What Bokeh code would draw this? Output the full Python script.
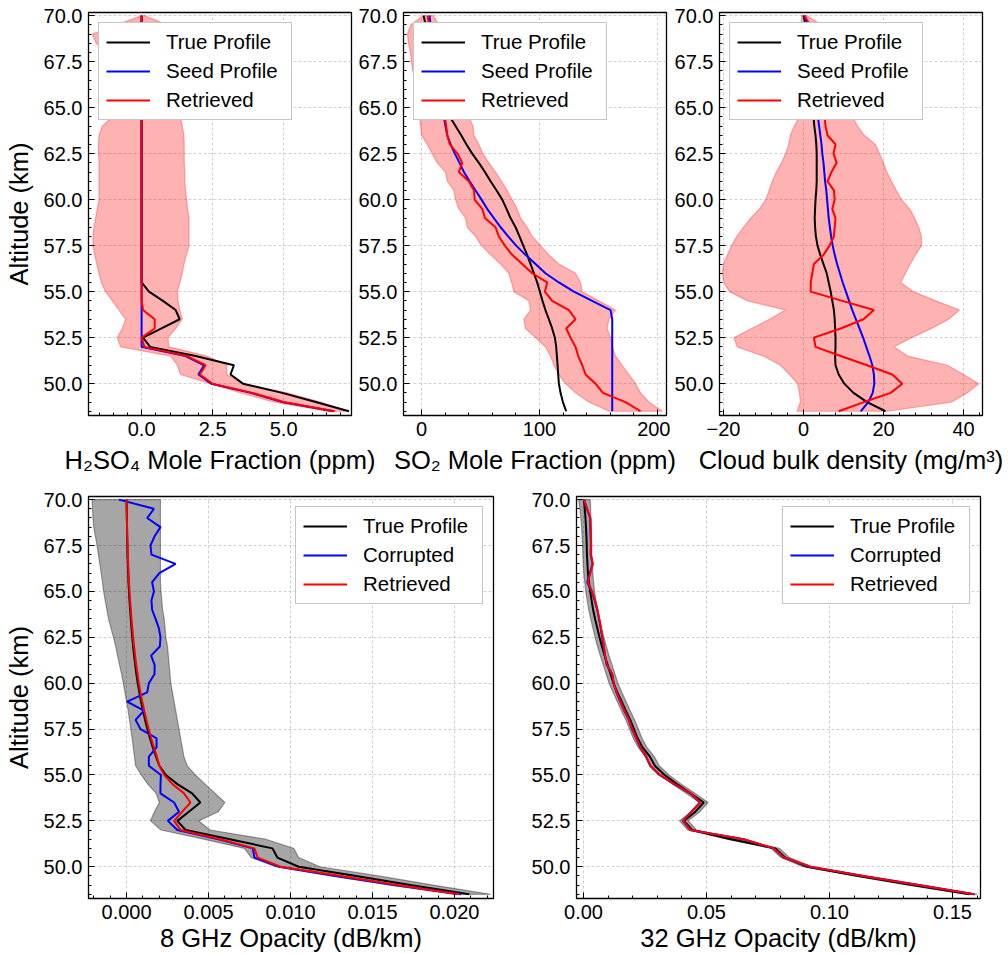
from bokeh.plotting import figure
from bokeh.layouts import column, row
from bokeh.models import (Range1d, SingleIntervalTicker, NumeralTickFormatter,
                          CustomJSTickFormatter, Legend, LegendItem)
from bokeh.core.properties import value
from bokeh.embed import file_html
from bokeh.resources import INLINE

# ---------------- data (altitude levels, km) ----------------
altitude = [70.0, 69.5, 69.0, 68.5, 68.0, 67.5, 67.0, 66.5, 66.0, 65.5,
            65.0, 64.5, 64.0, 63.5, 63.0, 62.5, 62.0, 61.5, 61.0, 60.5,
            60.0, 59.5, 59.0, 58.5, 58.0, 57.5, 57.0, 56.5, 56.0, 55.5,
            55.0, 54.5, 54.0, 53.5, 53.0, 52.5, 52.0, 51.5, 51.0, 50.5,
            50.0, 49.5, 49.0, 48.5]

# H2SO4 mole fraction (ppm)
h2so4_true = [0.00, 0.00, 0.00, 0.00, 0.00, 0.00, 0.00, 0.00, 0.00, 0.00,
              0.00, 0.00, 0.00, 0.00, 0.00, 0.00, 0.00, 0.00, 0.00, 0.00,
              0.00, 0.00, 0.00, 0.00, 0.00, 0.00, 0.00, 0.00, 0.00, 0.00,
              0.26, 0.75, 1.20, 1.34, 0.70, 0.05, 0.30, 1.90, 3.25, 3.13,
              3.57, 4.95, 6.13, 7.30]
h2so4_seed = [0.00, 0.00, 0.00, 0.00, 0.00, 0.00, 0.00, 0.00, 0.00, 0.00,
              0.00, 0.00, 0.00, 0.00, 0.00, 0.00, 0.00, 0.00, 0.00, 0.00,
              0.00, 0.00, 0.00, 0.00, 0.00, 0.00, 0.00, 0.00, 0.00, 0.00,
              0.00, 0.00, 0.00, 0.00, 0.00, 0.00, 0.00, 1.55, 2.20, 2.00,
              2.45, 3.85, 4.95, 6.75]
h2so4_retr = [0.00, 0.00, 0.00, 0.00, 0.00, 0.00, 0.00, 0.00, 0.00, 0.00,
              0.00, 0.00, 0.00, 0.00, 0.00, 0.00, 0.00, 0.00, 0.00, 0.00,
              0.00, 0.00, 0.00, 0.00, 0.00, 0.00, 0.00, 0.00, 0.00, 0.00,
              0.00, 0.00, 0.05, 0.46, 0.46, 0.00, 0.10, 1.60, 2.25, 2.05,
              2.49, 3.90, 5.00, 6.80]
h2so4_low = [0.00, -0.87, -1.74, -1.60, -1.20, -0.90, -0.80, -0.80, -0.85, -0.90,
             -0.95, -1.03, -1.38, -1.50, -1.52, -1.52, -1.50, -1.50, -1.50, -1.50,
             -1.50, -1.56, -1.62, -1.68, -1.71, -1.71, -1.65, -1.58, -1.50, -1.42,
             -1.27, -1.03, -0.80, -0.56, -0.68, -0.86, -0.74, 1.02, 1.26, 1.37,
             2.43, 3.49, 4.66, 6.54]
h2so4_high = [0.10, 0.90, 1.10, 1.20, 1.25, 1.30, 1.30, 1.30, 1.30, 1.30,
              1.32, 1.37, 1.43, 1.49, 1.50, 1.50, 1.50, 1.52, 1.52, 1.55,
              1.58, 1.62, 1.67, 1.67, 1.67, 1.67, 1.58, 1.49, 1.43, 1.35,
              1.26, 1.28, 1.35, 1.43, 1.20, 0.93, 0.96, 2.31, 3.00, 3.00,
              3.60, 5.13, 6.30, 7.24]

# SO2 mole fraction (ppm)
so2_true = [1.7, 3.5, 5.0, 6.5, 8.0, 9.6, 11.2, 13.0, 15.0, 17.5,
            20.3, 24.0, 28.8, 33.6, 38.1, 42.9, 48.6, 53.7, 58.5, 63.6,
            68.4, 72.0, 75.4, 79.7, 83.0, 86.2, 89.5, 92.4, 95.2, 98.0,
            100.3, 102.5, 105.0, 107.9, 110.7, 113.0, 114.1, 114.7, 115.3, 115.8,
            116.4, 117.8, 119.8, 122.6]
so2_seed = [6.8, 7.6, 8.5, 9.6, 10.8, 12.0, 13.2, 14.4, 15.6, 16.8,
            17.8, 18.9, 20.3, 21.8, 24.6, 28.2, 32.2, 35.9, 40.7, 45.8,
            50.8, 55.6, 61.3, 67.0, 73.4, 80.2, 88.1, 96.6, 105.0, 116.4,
            129.1, 144.6, 160.2, 161.6, 161.6, 161.6, 161.6, 161.6, 161.6, 161.6,
            161.6, 161.6, 161.6, 161.6]
so2_retr = [5.0, 6.5, 8.0, 9.3, 10.6, 11.9, 13.2, 14.5, 15.8, 17.0,
            18.3, 19.8, 20.9, 21.8, 24.0, 30.5, 34.5, 31.6, 40.0, 44.4,
            45.0, 51.4, 53.7, 62.7, 65.5, 70.6, 76.8, 85.3, 93.8, 106.5,
            104.5, 110.7, 124.9, 130.5, 122.6, 126.3, 130.5, 132.8, 136.2, 139.0,
            147.5, 153.7, 172.9, 185.6]
so2_low = [1.0, -9.0, -12.0, -11.0, -9.5, -8.5, -7.5, -5.0, -3.5, -3.0,
           -2.5, -1.7, -0.8, 0.0, 4.8, 9.0, 13.3, 20.3, 21.8, 27.4,
           28.8, 31.6, 37.3, 38.7, 45.8, 50.8, 58.5, 67.0, 74.0, 76.3,
           78.2, 91.0, 92.4, 86.7, 88.1, 96.6, 105.0, 109.3, 112.1, 116.4,
           122.0, 130.5, 141.8, 158.8]
so2_high = [10.0, 14.7, 17.0, 19.0, 21.0, 23.0, 25.0, 27.0, 30.0, 33.0,
            36.0, 40.0, 43.5, 44.4, 48.6, 52.0, 57.0, 62.7, 67.8, 72.6,
            76.8, 81.0, 83.9, 89.5, 93.8, 100.8, 107.9, 116.4, 130.5, 134.7,
            136.2, 150.3, 164.4, 158.8, 157.3, 160.2, 161.6, 164.4, 170.0, 175.7,
            181.4, 185.6, 192.7, 204.0]

# Cloud bulk density (mg/m^3)
cloud_true = [0.0, 0.5, 0.9, 1.2, 1.4, 1.6, 1.8, 1.9, 2.0, 2.1,
              2.3, 2.5, 2.7, 3.0, 3.2, 3.3, 3.3, 3.3, 3.3, 3.2,
              3.0, 2.9, 2.8, 2.9, 3.1, 3.5, 4.2, 5.0, 5.8, 6.3,
              6.8, 7.2, 7.6, 7.8, 7.9, 8.0, 8.0, 7.9, 8.0, 8.8,
              10.2, 12.5, 15.9, 20.5]
cloud_seed = [0.25, 0.8, 1.3, 1.7, 2.0, 2.3, 2.6, 2.8, 3.0, 3.2,
              3.4, 3.6, 3.9, 4.2, 4.5, 4.7, 5.0, 5.2, 5.4, 5.7,
              5.9, 6.1, 6.3, 6.6, 6.9, 7.3, 7.8, 8.4, 9.1, 9.8,
              10.6, 11.4, 12.2, 13.1, 14.0, 14.9, 15.7, 16.5, 17.2, 17.6,
              17.7, 17.3, 16.2, 14.3]
cloud_retr = [0.3, 1.5, 2.5, 3.0, 3.5, 4.0, 4.3, 4.6, 4.9, 5.0,
              5.2, 5.3, 5.5, 6.0, 8.0, 7.5, 8.3, 7.0, 6.0, 7.6,
              7.8, 7.2, 8.0, 7.8, 7.6, 6.5, 5.0, 2.6, 2.2, 1.8,
              1.8, 9.7, 17.6, 15.0, 9.3, 2.6, 3.0, 9.3, 15.9, 22.2,
              24.7, 21.8, 15.1, 8.8]
cloud_low = [-0.5, -0.5, -0.8, -0.9, -1.0, -1.0, -1.0, -1.0, -1.0, -0.9,
             -0.9, -1.0, -2.3, -3.3, -3.7, -4.5, -5.5, -6.8, -7.8, -8.6,
             -9.4, -11.0, -13.2, -15.0, -16.7, -18.0, -19.0, -20.0, -20.3, -19.9,
             -18.5, -14.0, -4.5, -8.5, -13.0, -17.4, -16.6, -10.0, -5.8, -3.5,
             -1.5, -1.0, -0.8, -1.6]
cloud_high = [0.8, 4.5, 6.0, 7.0, 8.0, 8.8, 9.5, 10.0, 10.5, 11.0,
              11.5, 12.2, 13.5, 15.2, 18.0, 19.0, 20.0, 20.8, 22.0, 23.2,
              24.5, 26.5, 27.8, 28.8, 29.5, 29.5, 28.0, 26.7, 25.5, 24.3,
              27.5, 33.0, 39.0, 36.3, 32.0, 27.0, 22.6, 26.0, 36.0, 40.0,
              43.8, 41.0, 37.0, 21.0]

# 8 GHz opacity (dB/km)
op8_true = [0.00000, 0.00001, 0.00002, 0.00003, 0.00004, 0.00005, 0.00006, 0.00008, 0.00010, 0.00012,
            0.00015, 0.00018, 0.00022, 0.00026, 0.00030, 0.00035, 0.00040, 0.00046, 0.00053, 0.00060,
            0.00068, 0.00078, 0.00088, 0.00100, 0.00113, 0.00127, 0.00143, 0.00160, 0.00180, 0.00200,
            0.00240, 0.00310, 0.00400, 0.00450, 0.00380, 0.00310, 0.00360, 0.00630, 0.00890, 0.00920,
            0.01050, 0.01400, 0.01730, 0.02090]
op8_corr = [-0.00047, 0.00167, 0.00126, 0.00207, 0.00171, 0.00146, 0.00152, 0.00299, 0.00200, 0.00156,
            0.00167, 0.00152, 0.00156, 0.00177, 0.00197, 0.00207, 0.00203, 0.00150, 0.00171, 0.00171,
            0.00136, 0.00126, 0.00004, 0.00106, 0.00055, 0.00085, 0.00183, 0.00183, 0.00136, 0.00136,
            0.00210, 0.00207, 0.00207, 0.00290, 0.00320, 0.00252, 0.00310, 0.00560, 0.00770, 0.00780,
            0.00930, 0.01280, 0.01630, 0.02040]
op8_retr = [0.00000, 0.00001, 0.00002, 0.00003, 0.00004, 0.00006, 0.00008, 0.00010, 0.00012, 0.00015,
            0.00018, 0.00022, 0.00026, 0.00030, 0.00035, 0.00040, 0.00046, 0.00052, 0.00059, 0.00067,
            0.00075, 0.00085, 0.00096, 0.00108, 0.00121, 0.00135, 0.00150, 0.00167, 0.00185, 0.00200,
            0.00230, 0.00280, 0.00350, 0.00390, 0.00340, 0.00290, 0.00330, 0.00570, 0.00780, 0.00800,
            0.00940, 0.01310, 0.01650, 0.02030]
op8_low = [-0.00210, -0.00208, -0.00205, -0.00200, -0.00190, -0.00180, -0.00172, -0.00163, -0.00155, -0.00147,
           -0.00140, -0.00130, -0.00120, -0.00110, -0.00095, -0.00080, -0.00066, -0.00055, -0.00043, -0.00030,
           -0.00020, -0.00010, 0.00000, 0.00010, 0.00018, 0.00026, 0.00034, 0.00041, 0.00048, 0.00055,
           0.00090, 0.00130, 0.00180, 0.00200, 0.00170, 0.00146, 0.00210, 0.00470, 0.00720, 0.00760,
           0.00910, 0.01240, 0.01610, 0.01990]
op8_high = [0.00207, 0.00207, 0.00207, 0.00207, 0.00207, 0.00207, 0.00207, 0.00207, 0.00207, 0.00207,
            0.00210, 0.00215, 0.00220, 0.00230, 0.00235, 0.00240, 0.00250, 0.00255, 0.00260, 0.00265,
            0.00270, 0.00280, 0.00290, 0.00300, 0.00310, 0.00320, 0.00330, 0.00340, 0.00350, 0.00370,
            0.00420, 0.00480, 0.00540, 0.00600, 0.00560, 0.00440, 0.00510, 0.00850, 0.01020, 0.01050,
            0.01180, 0.01540, 0.01870, 0.02220]

# 32 GHz opacity (dB/km)
op32_true = [0.0002, 0.0005, 0.0008, 0.0010, 0.0012, 0.0013, 0.0014, 0.0016, 0.0018, 0.0022,
             0.0027, 0.0033, 0.0039, 0.0047, 0.0056, 0.0065, 0.0075, 0.0086, 0.0098, 0.0110,
             0.0122, 0.0138, 0.0155, 0.0172, 0.0190, 0.0205, 0.0220, 0.0240, 0.0270, 0.0290,
             0.0330, 0.0380, 0.0435, 0.0489, 0.0455, 0.0408, 0.0442, 0.0600, 0.0780, 0.0820,
             0.0910, 0.1118, 0.1337, 0.1570]
op32_corr = [0.0002, 0.0014, 0.0027, 0.0028, 0.0029, 0.0030, 0.0029, 0.0037, 0.0026, 0.0015,
             0.0033, 0.0046, 0.0056, 0.0063, 0.0070, 0.0076, 0.0082, 0.0087, 0.0094, 0.0116,
             0.0122, 0.0134, 0.0149, 0.0166, 0.0184, 0.0197, 0.0214, 0.0231, 0.0254, 0.0271,
             0.0309, 0.0369, 0.0434, 0.0474, 0.0439, 0.0404, 0.0434, 0.0651, 0.0773, 0.0813,
             0.0922, 0.1140, 0.1365, 0.1590]
op32_retr = [0.0002, 0.0015, 0.0028, 0.0029, 0.0030, 0.0031, 0.0030, 0.0038, 0.0028, 0.0018,
             0.0035, 0.0047, 0.0057, 0.0064, 0.0071, 0.0077, 0.0083, 0.0088, 0.0095, 0.0117,
             0.0123, 0.0135, 0.0150, 0.0167, 0.0185, 0.0198, 0.0215, 0.0232, 0.0255, 0.0272,
             0.0310, 0.0370, 0.0435, 0.0475, 0.0440, 0.0405, 0.0435, 0.0652, 0.0774, 0.0814,
             0.0923, 0.1136, 0.1360, 0.1587]
op32_low = [-0.0020, -0.0015, -0.0011, -0.0008, -0.0006, -0.0004, -0.0003, -0.0001, 0.0001, 0.0005,
            0.0009, 0.0015, 0.0021, 0.0029, 0.0038, 0.0047, 0.0057, 0.0068, 0.0080, 0.0092,
            0.0104, 0.0120, 0.0137, 0.0154, 0.0172, 0.0187, 0.0202, 0.0222, 0.0252, 0.0272,
            0.0312, 0.0362, 0.0417, 0.0471, 0.0437, 0.0390, 0.0424, 0.0582, 0.0762, 0.0802,
            0.0892, 0.1100, 0.1319, 0.1552]
op32_high = [0.0028, 0.0029, 0.0030, 0.0031, 0.0032, 0.0033, 0.0034, 0.0036, 0.0038, 0.0041,
             0.0045, 0.0051, 0.0057, 0.0065, 0.0074, 0.0083, 0.0093, 0.0104, 0.0116, 0.0128,
             0.0140, 0.0156, 0.0173, 0.0190, 0.0208, 0.0223, 0.0238, 0.0258, 0.0288, 0.0308,
             0.0348, 0.0398, 0.0453, 0.0507, 0.0473, 0.0426, 0.0460, 0.0618, 0.0798, 0.0838,
             0.0928, 0.1136, 0.1355, 0.1600]

top_x_labels = ["H\u2082SO\u2084 Mole Fraction (ppm)",
                "SO\u2082 Mole Fraction (ppm)",
                "Cloud bulk density (mg/m\u00b3)"]

# ---------------- styling ----------------
FONT = "Liberation Sans"
TICK_SIZE = "20px"
LABEL_SIZE = "25.5px"
LEGEND_SIZE = "20.5px"
Y_RANGE = (48.27, 70.17)


def make_panel(width, height, borders, xr, x_interval, x_formatter, x_label, y_label):
    left, right, top, bottom = borders
    p = figure(width=width, height=height,
               x_range=Range1d(*xr), y_range=Range1d(*Y_RANGE),
               output_backend="svg", toolbar_location=None,
               min_border_left=left, min_border_right=right,
               min_border_top=top, min_border_bottom=bottom)
    p.background_fill_color = "white"
    p.border_fill_color = "white"
    p.outline_line_color = "black"
    p.outline_line_width = 1.3
    p.outline_line_alpha = 1.0

    p.xaxis.ticker = SingleIntervalTicker(interval=x_interval, num_minor_ticks=5)
    p.yaxis.ticker = SingleIntervalTicker(interval=2.5, num_minor_ticks=5)
    p.xaxis.formatter = x_formatter
    p.yaxis.formatter = NumeralTickFormatter(format="0.0")
    for ax in (p.xaxis[0], p.yaxis[0]):
        ax.axis_line_color = None
        ax.major_tick_in = 6
        ax.major_tick_out = 0
        ax.minor_tick_in = 3
        ax.minor_tick_out = 0
        ax.major_tick_line_color = "black"
        ax.minor_tick_line_color = "black"
        ax.major_tick_line_width = 1
        ax.minor_tick_line_width = 1
        ax.major_label_text_font = FONT
        ax.major_label_text_font_size = TICK_SIZE
        ax.major_label_text_color = "black"
        ax.major_label_standoff = 6
        ax.axis_label_text_font = FONT
        ax.axis_label_text_font_size = LABEL_SIZE
        ax.axis_label_text_font_style = "normal"
        ax.axis_label_text_color = "black"
    if x_label:
        p.xaxis.axis_label = x_label
        p.xaxis.axis_label_standoff = 2
    if y_label:
        p.yaxis.axis_label = y_label
        p.yaxis.axis_label_standoff = 8
    for g in (p.xgrid[0], p.ygrid[0]):
        g.grid_line_color = "#c4c4c4"
        g.grid_line_dash = "3 2"
        g.grid_line_width = 0.8
    return p


def add_band(p, low, high, color, alpha):
    xs = list(low) + list(reversed(high))
    ys = list(altitude) + list(reversed(altitude))
    p.patch(xs, ys, fill_color=color, fill_alpha=alpha,
            line_color=color, line_alpha=alpha, line_width=1.2)


def add_legend(p, items, location, label_width):
    legend = Legend(items=items, location=location)
    legend.border_line_color = "#8c8c8c"
    legend.border_line_width = 1.5
    legend.background_fill_color = "white"
    legend.background_fill_alpha = 1.0
    legend.label_text_font = FONT
    legend.label_text_font_size = LEGEND_SIZE
    legend.label_text_color = "black"
    legend.glyph_width = 44
    legend.glyph_height = 20
    legend.label_standoff = 16
    legend.label_width = label_width
    legend.padding = 7
    legend.spacing = 5
    legend.margin = 10
    p.add_layout(legend)


def profile_panel(p, low, high, band_color, band_alpha, true_v, second_v, retr_v,
                  second_name, location, label_width):
    add_band(p, low, high, band_color, band_alpha)
    r1 = p.line(true_v, altitude, line_color="black", line_width=2)
    r2 = p.line(second_v, altitude, line_color="blue", line_width=2)
    r3 = p.line(retr_v, altitude, line_color="red", line_width=2)
    add_legend(p, [LegendItem(label="True Profile", renderers=[r1]),
                   LegendItem(label=second_name, renderers=[r2]),
                   LegendItem(label="Retrieved", renderers=[r3])],
               location, label_width)


minus_fmt = CustomJSTickFormatter(code="""
    const s = Math.abs(tick).toFixed(0);
    return tick < 0 ? '\u2212' + s : s;
""")

# top row (x-axis titles are drawn in a strip below, so they may overhang panels)
TOP_H = 447
p1 = make_panel(355, TOP_H, (88, 4, 12, 32), (-1.87, 7.39), 2.5,
                NumeralTickFormatter(format="0.0"), None, "Altitude (km)")
profile_panel(p1, h2so4_low, h2so4_high, "red", 0.3,
              h2so4_true, h2so4_seed, h2so4_retr, "Seed Profile", "top_left", 118)

p2 = make_panel(315, TOP_H, (48, 4, 12, 32), (-15.3, 207.6), 100,
                NumeralTickFormatter(format="0"), None, None)
profile_panel(p2, so2_low, so2_high, "red", 0.3,
              so2_true, so2_seed, so2_retr, "Seed Profile", "top_left", 118)

p3 = make_panel(338, TOP_H, (49, 26, 12, 32), (-21.0, 44.75), 20, minus_fmt, None, None)
profile_panel(p3, cloud_low, cloud_high, "red", 0.3,
              cloud_true, cloud_seed, cloud_retr, "Seed Profile", "top_left", 118)

# strip holding the three top-row x-axis titles
strip = figure(width=1008, height=33, x_range=Range1d(0, 1008), y_range=Range1d(0, 33),
               output_backend="svg", toolbar_location=None,
               x_axis_location=None, y_axis_location=None,
               min_border=0, min_border_left=0, min_border_right=0,
               min_border_top=0, min_border_bottom=0)
strip.outline_line_color = None
strip.grid.visible = False
strip.background_fill_color = "white"
strip.border_fill_color = "white"
strip.text(x=[219.5, 534.5, 850.5], y=[21, 21, 21], text=top_x_labels,
           text_font=value(FONT), text_font_size=LABEL_SIZE, text_color="black",
           text_align="center", text_baseline="middle")

# bottom row
p4 = make_panel(520, 474, (88, 27, 16, 56), (-0.00232, 0.02238), 0.005,
                NumeralTickFormatter(format="0.000"),
                "8 GHz Opacity (dB/km)", "Altitude (km)")
profile_panel(p4, op8_low, op8_high, "black", 0.35,
              op8_true, op8_corr, op8_retr, "Corrupted", "top_right", 112)

p5 = make_panel(488, 474, (56, 28, 16, 56), (-0.00285, 0.1614), 0.05,
                NumeralTickFormatter(format="0.00"),
                "32 GHz Opacity (dB/km)", None)
profile_panel(p5, op32_low, op32_high, "black", 0.35,
              op32_true, op32_corr, op32_retr, "Corrupted", "top_right", 112)

layout = column(row(p1, p2, p3, spacing=0), strip, row(p4, p5, spacing=0), spacing=0)

html = file_html(layout, INLINE, title="Profiles")
with open("out.html", "w") as f:
    f.write(html)
